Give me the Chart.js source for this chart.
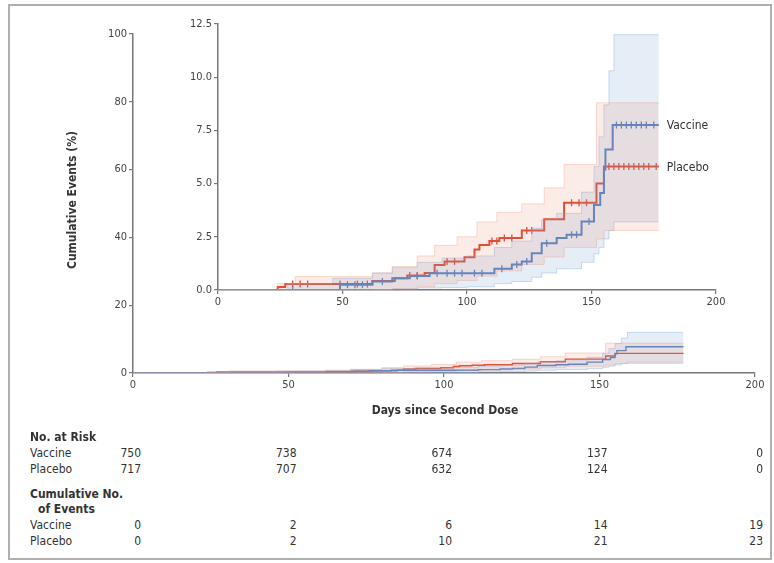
<!DOCTYPE html>
<html>
<head>
<meta charset="utf-8">
<script src="https://cdn.jsdelivr.net/npm/chart.js@4.4.0/dist/chart.umd.min.js"></script>
<style>
  body { margin: 0; background: #fff; }
  #fig { position: relative; width: 774px; height: 563px; font-family: "Liberation Sans Narrow", "DejaVu Sans Condensed", sans-serif; color: #333; }
  #frame { position: absolute; left: 8px; top: 4px; width: 764px; height: 556px; border: 2px solid #b0b0b0; box-sizing: border-box; }
  canvas { position: absolute; left: 0; top: 0; }
  .t { position: absolute; font-size: 12px; line-height: 14px; white-space: nowrap; }
  .b { font-weight: bold; }
  .n { transform: translateX(-100%); }
</style>
</head>
<body>
<div id="fig">
  <div id="frame"></div>
  <canvas id="mainChart" width="774" height="430"></canvas>
  <canvas id="insetChart" width="774" height="430"></canvas>
  <div class="t b" style="left:72px;top:200px;transform:translate(-50%,-50%) rotate(-90deg);">Cumulative Events (%)</div>
  <div class="t b" style="left:445px;top:403px;transform:translateX(-50%);">Days since Second Dose</div>
  <div id="table"></div>
</div>

<script>
/* x ticks shared by the charts and the table */
const dayTicks = [0, 50, 100, 150, 200];

/* Kaplan-Meier curves (day, cumulative %) */
const vaccineDays = [0, 49, 62, 70, 77, 85, 111, 118, 122, 126, 130, 136, 140, 146, 151, 153.5, 155, 155.6, 158.5, 177];
const vaccinePct  = [0, 0.25, 0.4, 0.55, 0.66, 0.79, 1.0, 1.2, 1.34, 1.73, 2.2, 2.44, 2.6, 3.22, 4.0, 4.56, 5.66, 6.6, 7.75, 7.75];

const placeboDays = [0, 24, 27, 62, 71, 76, 83, 87, 91, 99, 103, 105, 109, 113, 122, 131, 139, 152, 155, 177];
const placeboPct  = [0, 0.14, 0.28, 0.42, 0.55, 0.68, 0.8, 1.18, 1.34, 1.54, 1.9, 2.12, 2.3, 2.44, 2.8, 3.33, 4.1, 5.0, 5.8, 5.8];

/* 95% confidence bands */
const vaccineBandDays = [0, 28, 46, 62, 70, 80, 90, 100, 111, 118, 126, 130, 136, 146, 151, 153, 155, 157, 159, 177];
const vaccineLow      = [0, 0, 0, 0.02, 0.05, 0.1, 0.12, 0.15, 0.3, 0.4, 0.6, 0.8, 1.0, 1.3, 1.7, 2.0, 2.4, 2.8, 3.2, 3.2];
const vaccineHigh     = [0, 0.3, 0.55, 0.8, 1.05, 1.3, 1.5, 1.6, 2.0, 2.3, 2.9, 3.3, 3.6, 4.6, 5.8, 7.2, 8.7, 10.3, 12.0, 12.0];

const placeboBandDays = [0, 24, 31, 62, 70, 80, 87, 96, 104, 112, 122, 131, 139, 152, 155, 177];
const placeboLow      = [0, 0, 0, 0.02, 0.05, 0.15, 0.3, 0.45, 0.65, 0.9, 1.2, 1.55, 2.0, 2.4, 2.8, 2.8];
const placeboHigh     = [0, 0.3, 0.63, 0.8, 1.1, 1.6, 2.1, 2.5, 3.2, 3.65, 4.05, 4.8, 5.9, 8.8, 8.8, 8.8];

/* censoring marks (days) */
const vaccineCensor = [30, 52, 55, 58, 66, 80, 88, 92, 95, 98, 103, 106, 114, 120, 124, 132, 142, 144, 149, 160, 162, 164, 166, 168, 170, 172, 175];
const placeboCensor = [30, 33, 36, 49, 56, 60, 77, 80, 92, 95, 110, 112, 115, 118, 124, 126, 142, 145, 148, 157, 159, 161, 163, 165, 167, 169, 171, 173, 176];

/* table under the chart */
const riskVaccine   = [750, 738, 674, 137, 0];
const riskPlacebo   = [717, 707, 632, 124, 0];
const eventsVaccine = [0, 2, 6, 14, 19];
const eventsPlacebo = [0, 2, 10, 21, 23];

const BLUE = "#3f7bc6";
const RED = "#dc4129";
const FONT = '"Liberation Sans Narrow", "DejaVu Sans Condensed", sans-serif';

const pts = (xs, ys) => xs.map((x, i) => ({ x, y: ys[i] }));
const valueAt = (xs, ys, t) => {
  let v = 0;
  xs.forEach((x, i) => { if (x <= t) v = ys[i]; });
  return v;
};

function buildDatasets(lineWidth, markSize) {
  const band = (xs, ys, color, fill, bg) => ({
    data: pts(xs, ys), stepped: "before", borderColor: color, borderWidth: 0.8,
    pointRadius: 0, fill, backgroundColor: bg
  });
  const curve = (xs, ys, color) => ({
    data: pts(xs, ys), stepped: "before", borderColor: color, borderWidth: lineWidth,
    pointRadius: 0, fill: false
  });
  const marks = (days, xs, ys, color) => ({
    type: "scatter",
    data: days.map(d => ({ x: d, y: valueAt(xs, ys, d) })),
    pointStyle: "line", rotation: 90, pointRadius: markSize,
    borderColor: color, borderWidth: 1.3, showLine: false
  });
  return [
    band(placeboBandDays, placeboLow, "rgba(236,150,130,0.45)", false, "transparent"),
    band(placeboBandDays, placeboHigh, "rgba(236,150,130,0.45)", "-1", "rgba(240,140,120,0.17)"),
    band(vaccineBandDays, vaccineLow, "rgba(140,175,220,0.55)", false, "transparent"),
    band(vaccineBandDays, vaccineHigh, "rgba(140,175,220,0.55)", "-1", "rgba(125,165,215,0.2)"),
    curve(vaccineDays, vaccinePct, BLUE),
    curve(placeboDays, placeboPct, RED),
    marks(vaccineCensor, vaccineDays, vaccinePct, BLUE),
    marks(placeboCensor, placeboDays, placeboPct, RED)
  ];
}

function axes(yMax, yStep, yWidth, xHeight, yFmt) {
  const grid = { drawOnChartArea: false, drawTicks: true, tickLength: 4, color: "#777", lineWidth: 1.2 };
  const tickFont = { family: FONT, size: 11 };
  return {
    x: {
      type: "linear", min: 0, max: 200,
      ticks: { stepSize: 50, color: "#444", font: tickFont, padding: 2 },
      grid, border: { color: "#777", width: 1.5 },
      afterFit: s => { s.height = xHeight; }
    },
    y: {
      min: 0, max: yMax,
      ticks: { stepSize: yStep, color: "#444", font: tickFont, padding: 2, callback: yFmt },
      grid, border: { color: "#777", width: 1.5 },
      afterFit: s => { s.width = yWidth; }
    }
  };
}

const baseOptions = {
  responsive: false,
  animation: false,
  devicePixelRatio: 1,
  plugins: { legend: { display: false }, tooltip: { enabled: false } }
};

/* MAIN CHART 0-100 % */
const mainChart = new Chart(document.getElementById("mainChart"), {
  type: "line",
  data: { datasets: buildDatasets(1.4, 0) },
  options: {
    ...baseOptions,
    layout: { padding: { left: 0, top: 34, right: 19, bottom: 37 } },
    scales: axes(100, 20, 133, 20, v => v)
  }
});

/* INSET 0-12.5 % */
const endLabels = {
  id: "endLabels",
  afterDatasetsDraw(chart) {
    const { ctx, scales: { x, y } } = chart;
    ctx.save();
    ctx.font = "12px " + FONT;
    ctx.fillStyle = "#333";
    ctx.textBaseline = "middle";
    ctx.fillText("Vaccine", x.getPixelForValue(vaccineDays.at(-1)) + 8, y.getPixelForValue(vaccinePct.at(-1)) + 1);
    ctx.fillText("Placebo", x.getPixelForValue(placeboDays.at(-1)) + 8, y.getPixelForValue(placeboPct.at(-1)) + 1);
    ctx.restore();
  }
};

new Chart(document.getElementById("insetChart"), {
  type: "line",
  data: { datasets: buildDatasets(2, 3.5) },
  options: {
    ...baseOptions,
    layout: { padding: { left: 0, top: 24, right: 58, bottom: 120 } },
    scales: axes(12.5, 2.5, 218, 20, v => v.toFixed(1))
  },
  plugins: [endLabels]
});

/* NUMBERS AT RISK TABLE */
const table = document.getElementById("table");
function addText(text, left, top, cls) {
  const d = document.createElement("div");
  d.className = "t " + (cls || "");
  d.style.left = left + "px";
  d.style.top = top + "px";
  d.textContent = text;
  table.appendChild(d);
}
function addRow(label, values, top) {
  addText(label, 30, top);
  values.forEach((v, i) => {
    addText(v, mainChart.scales.x.getPixelForValue(dayTicks[i]) + 8, top, "n");
  });
}
addText("No. at Risk", 30, 430, "b");
addRow("Vaccine", riskVaccine, 446);
addRow("Placebo", riskPlacebo, 462);
addText("Cumulative No.", 30, 487, "b");
addText("of Events", 38, 502, "b");
addRow("Vaccine", eventsVaccine, 518);
addRow("Placebo", eventsPlacebo, 534);
</script>
</body>
</html>
